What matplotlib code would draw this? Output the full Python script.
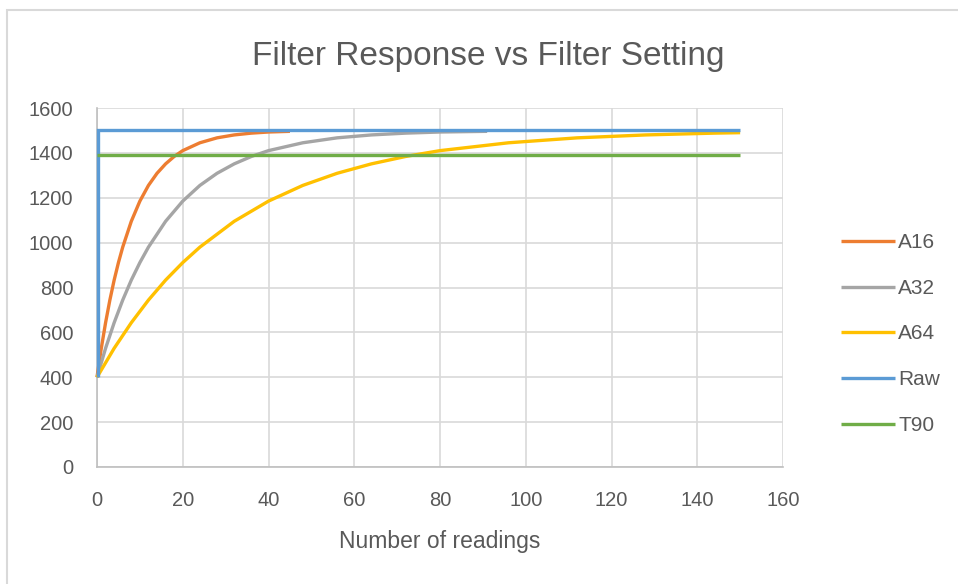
import matplotlib
matplotlib.use('Agg')
import matplotlib.pyplot as plt
from matplotlib.patches import Rectangle

# values
a16_x = [0, 1, 2, 3, 4, 5, 6, 8, 10, 12, 14, 16, 18, 20, 24, 28, 32, 36, 40, 45]
a16_y = [400, 529, 643, 744, 833, 911, 980, 1095, 1185, 1255, 1309, 1351, 1384,
         1410, 1445, 1467, 1480, 1488, 1493, 1496]

a32_x = [0, 2, 4, 6, 8, 10, 12, 16, 20, 24, 28, 32, 36, 40, 48, 56, 64, 72, 80, 91]
a32_y = [400, 529, 643, 744, 833, 911, 980, 1095, 1185, 1255, 1309, 1351, 1384,
         1410, 1445, 1467, 1480, 1488, 1493, 1496]

a64_x = [0, 4, 8, 12, 16, 20, 24, 32, 40, 48, 56, 64, 72, 80, 96, 112, 128, 144, 150]
a64_y = [400, 529, 643, 744, 833, 911, 980, 1095, 1185, 1255, 1309, 1351, 1384,
         1410, 1445, 1467, 1480, 1488, 1490]

raw_x = [0.3, 0.3, 150]
raw_y = [400, 1500, 1500]

t90_x = [0, 150]
t90_y = [1390, 1390]

series = [('A16', a16_x, a16_y, '#ED7D31'),
          ('A32', a32_x, a32_y, '#A5A5A5'),
          ('A64', a64_x, a64_y, '#FFC000'),
          ('Raw', raw_x, raw_y, '#5B9BD5'),
          ('T90', t90_x, t90_y, '#70AD47')]

plt.rcParams['font.family'] = ['Liberation Sans', 'DejaVu Sans']
txt = '#595959'

fig = plt.figure(figsize=(9.58, 5.84), dpi=100)
fig.patches.append(Rectangle((7/958, -0.05), 1.1, 1.05 - 10/584, transform=fig.transFigure,
                             fill=False, edgecolor='#d9d9d9', linewidth=1.5))
ax = fig.add_axes([97/958, 1-467/584, (783-97)/958, (467-108)/584])

lines = []
for name, xs, ys, col in series:
    l, = ax.plot(xs, ys, color=col, linewidth=2.4, label=name, zorder=3,
                 clip_on=False, solid_capstyle='butt', solid_joinstyle='miter')
    lines.append(l)

ax.set_xlim(0, 160)
ax.set_ylim(0, 1600)
ax.set_xticks(range(0, 161, 20))
ax.set_yticks(range(0, 1601, 200))
ax.grid(True, color='#d9d9d9', linewidth=1.2)
ax.set_axisbelow(True)
for s in ['top', 'right']:
    ax.spines[s].set_visible(False)
for s in ['left', 'bottom']:
    ax.spines[s].set_color('#bfbfbf')
    ax.spines[s].set_linewidth(1.2)
ax.tick_params(length=0, labelsize=14.5, labelcolor=txt)
ax.tick_params(axis='x', pad=17.5)
ax.tick_params(axis='y', pad=17)

ax.set_xlabel('Number of readings', fontsize=16.5, color=txt, labelpad=14)
fig.text(488/958, 1-56/584, 'Filter Response vs Filter Setting', ha='center', va='center',
         fontsize=24, color=txt)

leg = fig.legend(handles=lines, loc='center left', bbox_to_anchor=(822/958, 1-334/584),
                 frameon=False, fontsize=15, labelcolor=txt, handlelength=2.6,
                 handletextpad=0.15, labelspacing=1.28)

fig.savefig('out.png', dpi=100)
